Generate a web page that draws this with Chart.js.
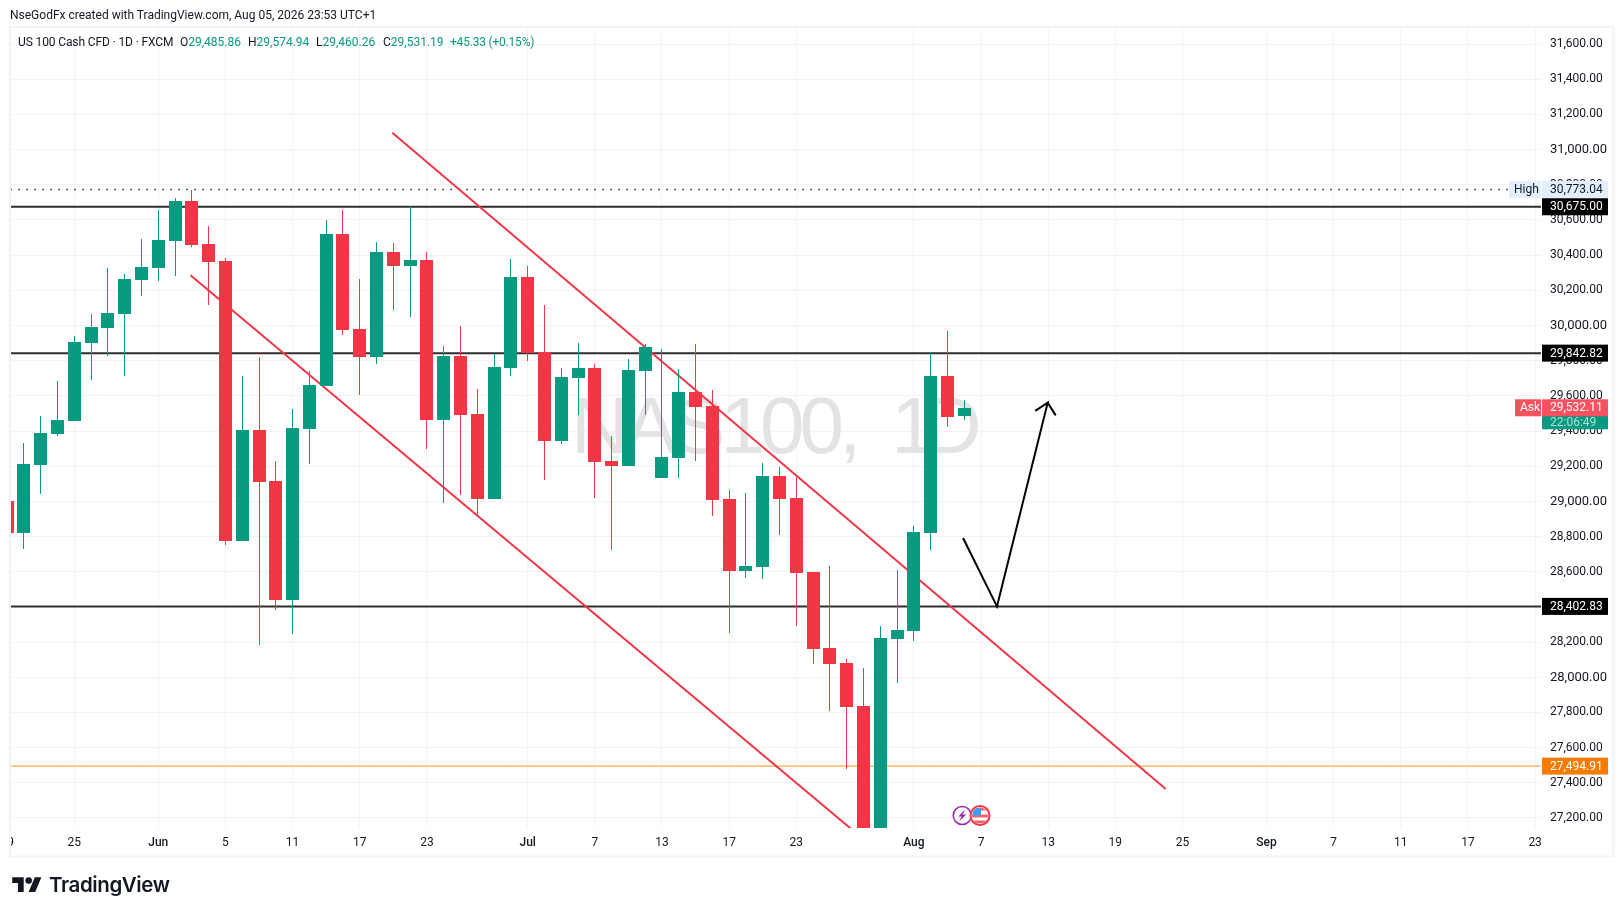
<!DOCTYPE html>
<html>
<head>
<meta charset="utf-8">
<title>NAS100 1D</title>
<script src="https://cdn.jsdelivr.net/npm/chart.js@4"></script>
<style>
  html, body { margin: 0; padding: 0; background: #fff; }
  #wrap { position: relative; width: 1623px; height: 916px; overflow: hidden; font-family: Roboto, sans-serif; }
  #chart { position: absolute; left: 0; top: 0; }
  .t { position: absolute; font-size: 12px; line-height: 14px; white-space: nowrap; color: #131722; }
  .g { color: #089981; }
  #brand { position: absolute; left: 49px; top: 871px; font: 600 20.5px/28px Inter, sans-serif; letter-spacing: -0.4px; color: #131722; }
  #logo { position: absolute; left: 12px; top: 874px; }
</style>
</head>
<body>
<div id="wrap">
  <canvas id="chart" width="1623" height="916"></canvas>
  <div class="t" style="left:10px;top:8px">NseGodFx created with TradingView.com, Aug 05, 2026 23:53 UTC+1</div>
  <div class="t" style="left:18px;top:35px;letter-spacing:-0.12px">US 100 Cash CFD · 1D · FXCM</div>
  <div class="t" style="left:180px;top:35px">O<span class="g">29,485.86</span></div>
  <div class="t" style="left:248px;top:35px">H<span class="g">29,574.94</span></div>
  <div class="t" style="left:316px;top:35px">L<span class="g">29,460.26</span></div>
  <div class="t" style="left:383px;top:35px">C<span class="g">29,531.19</span></div>
  <div class="t g" style="left:450px;top:35px;letter-spacing:-0.2px">+45.33 (+0.15%)</div>
  <svg id="logo" width="30" height="23" viewBox="0 0 36 28" fill="#131722"><path d="M14 22H7V11H0V4h14v18zM28 22h-8l7.5-18h8L28 22z"/><circle cx="20" cy="8" r="4"/></svg>
  <div id="brand">TradingView</div>
</div>
<script>
// daily candles, x is the trading day counted from Jun 1
const barIndex = [-9,-8,-7,-6,-5,-4,-3,-2,-1,0,1,2,3,4,5,6,7,8,9,10,11,12,13,14,15,16,17,18,19,20,21,22,23,24,25,26,27,28,29,30,31,32,33,34,35,36,37,38,39,40,41,42,43,44,45,46,47,48];
const opens = [29002,28820,29206,29383,29457,29900,29985,30065,30258,30326,30480,30707,30463,30366,28775,29405,29116,28439,29411,29656,30520,29980,29820,30417,30338,30372,29462,29826,29496,29013,29758,30275,29849,29343,29701,29758,29229,29201,29741,29133,29246,29622,29542,29013,28604,28627,29144,29019,28598,28166,28081,27836,26950,28217,28263,28820,29713,29485.86];
const highs = [29002,29332,29485,29684,29940,30065,30326,30292,30491,30656,30724,30773,30565,30383,29712,29820,29229,29525,29741,30599,30656,30264,30474,30469,30679,30417,29883,29997,29639,29838,30378,30338,30116,29758,29900,29781,29371,29809,29894,29866,29752,29894,29633,29064,29047,29218,29195,29138,28598,28632,28104,28052,28291,28610,28860,29849,29968,29574.94];
const lows = [28820,28729,29042,29371,29457,29690,29826,29712,30167,30253,30281,30446,30116,28752,28775,28183,28382,28246,29212,29656,29946,29605,29781,30088,30048,29297,28990,29036,28917,29013,29712,29798,29121,29326,29491,29019,28723,29201,29491,29133,29133,29229,28917,28251,28564,28558,28809,28291,28075,27808,27478,26850,26800,27967,28206,28723,29423,29460.26];
const closes = [28820,29212,29388,29462,29906,29991,30071,30264,30332,30486,30707,30457,30361,28775,29405,29110,28439,29417,29661,30520,29974,29820,30417,30338,30372,29462,29826,29491,29013,29764,30275,29843,29343,29707,29758,29224,29201,29747,29877,29252,29622,29536,29007,28604,28632,29144,29013,28593,28162,28075,27831,26950,28223,28268,28826,29713,29479,29531.19];

const xTickIndex = [-9,-5,0,4,8,12,16,22,26,30,34,38,45,49,53,57,61,66,70,74,78,82];
const xTickLabels = ["19","25","Jun","5","11","17","23","Jul","7","13","17","23","Aug","7","13","19","25","Sep","7","11","17","23"];
const monthLabels = ["Jun","Jul","Aug","Sep"];

const yMin = 27143, yMax = 31697, yStep = 200;
const xMin = -8.83, xMax = 82.35;

// drawings
const highLevel = 30773.04;
const blackLevels = [30675, 29842.82, 28402.83];
const orangeLevel = 27494.91;
const askPrice = 29532.11;
const countdown = "22:06:49";
const upperChannel = [{ x: 13.94, y: 31096 }, { x: 60, y: 27365 }];
const lowerChannel = [{ x: 1.92, y: 30285 }, { x: 42.2, y: 27063 }];
const arrowPath = [{ x: 47.93, y: 28792 }, { x: 49.95, y: 28403 }, { x: 52.97, y: 29561 }, { x: 52.23, y: 29515 }, { x: 52.97, y: 29561 }, { x: 53.45, y: 29489 }];
const eventBars = [48, 49];

const GREEN = "#089981", RED = "#F23645";
const fmt = (v) => v.toLocaleString("en-US", { minimumFractionDigits: 2, maximumFractionDigits: 2 });
const barColors = closes.map((c, i) => (c >= opens[i] ? GREEN : RED));
const spanLine = (y) => [{ x: xMin, y }, { x: xMax, y }];

function lineSet(data, color, width, extra) {
  return Object.assign({ type: "line", data, borderColor: color, borderWidth: width, pointRadius: 0, tension: 0, order: 5, fill: false }, extra);
}

// bars land on whole pixels like the original candles do
const snapBars = {
  id: "snapBars",
  afterDatasetsUpdate(chart) {
    chart.data.datasets.forEach((ds, i) => {
      if (ds.type === "line") return;
      chart.getDatasetMeta(i).data.forEach((el) => {
        el.x = Math.floor(el.x) + 0.5;
        el.y = Math.round(el.y);
        el.base = Math.round(el.base);
      });
    });
  },
};

const watermark = {
  id: "watermark",
  beforeDatasetsDraw(chart) {
    const { ctx } = chart;
    const y = chart.scales.y.getPixelForValue(29200) - 13;
    ctx.save();
    ctx.font = "80px 'Liberation Sans'";
    ctx.fillStyle = "#e2e3e4";
    ctx.textAlign = "left";
    ctx.textBaseline = "alphabetic";
    ctx.letterSpacing = "-5px";
    ctx.fillText("NAS100,", chart.scales.x.getPixelForValue(24.58), y);
    ctx.letterSpacing = "-12px";
    ctx.fillText("1D", chart.scales.x.getPixelForValue(43.65), y);
    ctx.restore();
  },
};

function tag(ctx, x, y, w, h, bg, fg, text, tx) {
  ctx.fillStyle = bg;
  ctx.fillRect(x, y - h / 2, w, h);
  ctx.fillStyle = fg;
  ctx.fillText(text, tx, y + 0.5);
}

const overlays = {
  id: "overlays",
  afterDraw(chart) {
    const { ctx, chartArea } = chart;
    const ys = chart.scales.y, xs = chart.scales.x;
    const left = chartArea.right + 1, w = 66, h = 17, tx = chartArea.right + 9;
    ctx.save();
    ctx.font = "12px Roboto";
    ctx.textBaseline = "middle";
    ctx.textAlign = "left";

    tag(ctx, chartArea.right - 32, ys.getPixelForValue(highLevel), 32, h, "#e3effd", "#131722", "High", chartArea.right - 27);
    tag(ctx, left, ys.getPixelForValue(highLevel), w, h, "#e3effd", "#131722", fmt(highLevel), tx);
    blackLevels.forEach((v) => tag(ctx, left, ys.getPixelForValue(v), w, h, "#000000", "#ffffff", fmt(v), tx));
    tag(ctx, left, ys.getPixelForValue(orangeLevel), w, h, "#F57C00", "#ffffff", fmt(orangeLevel), tx);

    const askY = ys.getPixelForValue(askPrice);
    tag(ctx, left, askY + 14.5, w, 14, GREEN, "#b2dfd6", countdown, tx);
    tag(ctx, left, askY, w, h, "#F7525F", "#ffffff", fmt(askPrice), tx);
    tag(ctx, chartArea.right - 26, askY, 26, h, "#F7525F", "#ffffff", "Ask", chartArea.right - 21);

    // event badges on the pane floor
    const by = chartArea.bottom - 12.5;
    const px = xs.getPixelForValue(eventBars[0]) - 2, fx = xs.getPixelForValue(eventBars[1]) - 1;
    ctx.lineWidth = 1.5;
    ctx.strokeStyle = "#9c27b0";
    ctx.beginPath(); ctx.arc(px, by, 9, 0, Math.PI * 2); ctx.stroke();
    ctx.fillStyle = "#9c27b0";
    ctx.beginPath();
    ctx.moveTo(px + 3, by - 6); ctx.lineTo(px - 4, by + 1); ctx.lineTo(px - 0.5, by + 1);
    ctx.lineTo(px - 3, by + 6); ctx.lineTo(px + 4, by - 1); ctx.lineTo(px + 0.5, by - 1);
    ctx.closePath(); ctx.fill();

    ctx.fillStyle = "#ffffff";
    ctx.beginPath(); ctx.arc(fx, by, 9.5, 0, Math.PI * 2); ctx.fill();
    ctx.save();
    ctx.beginPath(); ctx.arc(fx, by, 8, 0, Math.PI * 2); ctx.clip();
    ctx.fillStyle = "#f0626d";
    ctx.fillRect(fx - 8, by - 8, 16, 3);
    ctx.fillRect(fx - 8, by - 1, 16, 3);
    ctx.fillRect(fx - 8, by + 5, 16, 3);
    ctx.fillStyle = "#3f9cf2";
    ctx.fillRect(fx - 8, by - 8, 9, 8);
    ctx.restore();
    ctx.lineWidth = 2;
    ctx.strokeStyle = "#F23645";
    ctx.beginPath(); ctx.arc(fx, by, 9.5, 0, Math.PI * 2); ctx.stroke();

    // frame round the whole chart
    ctx.fillStyle = "#ffffff";
    ctx.fillRect(0, 0, 9, 916);
    ctx.strokeStyle = "#f2f3f5";
    ctx.lineWidth = 2;
    ctx.strokeRect(10, 27, 1603.5, 829.5);
    ctx.restore();
  },
};

new Chart(document.getElementById("chart"), {
  type: "bar",
  data: {
    datasets: [
      {
        data: barIndex.map((x, i) => ({ x, y: [opens[i], closes[i]] })),
        backgroundColor: barColors,
        barThickness: 13,
        grouped: false,
        inflateAmount: 0,
        borderWidth: 0,
        order: 1,
      },
      {
        data: barIndex.map((x, i) => ({ x, y: [lows[i], highs[i]] })),
        backgroundColor: barColors,
        barThickness: 1,
        grouped: false,
        inflateAmount: 0,
        borderWidth: 0,
        order: 2,
      },
      lineSet(upperChannel, RED, 2),
      lineSet(lowerChannel, RED, 2),
      lineSet(arrowPath, "#000000", 2, { borderJoinStyle: "miter" }),
      lineSet(spanLine(orangeLevel), "#FFA94D", 1.2),
      lineSet([{ x: xMin, y: highLevel }, { x: 80.4, y: highLevel }], "#555b66", 1.5, { borderDash: [2, 6], order: 6 }),
      ...blackLevels.map((v) => lineSet(spanLine(v), "#2e2e2e", 2)),
    ],
  },
  options: {
    responsive: false,
    animation: false,
    layout: { padding: { left: 10, right: 10, top: 27, bottom: 59 } },
    plugins: { legend: { display: false }, tooltip: { enabled: false } },
    scales: {
      x: {
        type: "linear",
        min: xMin,
        max: xMax,
        offset: false,
        border: { display: false },
        grid: { offset: false, color: "#f2f3f5", drawTicks: false },
        afterBuildTicks: (scale) => {
          scale.ticks = xTickIndex.map((value) => ({ value }));
        },
        afterFit: (scale) => {
          scale.height = 29;
          scale.paddingLeft = 0;
          scale.paddingRight = 0;
        },
        ticks: {
          autoSkip: false,
          maxRotation: 0,
          padding: 8,
          color: "#131722",
          font: (c) => ({ family: "Roboto", size: 12, weight: monthLabels.includes(c.tick && c.tick.label) ? "500" : "400" }),
          callback: (v, i) => xTickLabels[i],
        },
      },
      y: {
        position: "right",
        min: yMin,
        max: yMax,
        border: { display: false },
        grid: { color: "#f2f3f5", drawTicks: false },
        afterFit: (scale) => {
          scale.width = 72;
          scale.paddingTop = 0;
          scale.paddingBottom = 0;
        },
        ticks: {
          stepSize: yStep,
          includeBounds: false,
          autoSkip: false,
          padding: 9,
          color: "#131722",
          font: (c) => ({ family: "Roboto", size: c.tick && c.tick.value % 1000 === 0 ? 13 : 12 }),
          callback: (v) => fmt(v),
        },
      },
    },
  },
  plugins: [snapBars, watermark, overlays],
});
</script>
</body>
</html>
